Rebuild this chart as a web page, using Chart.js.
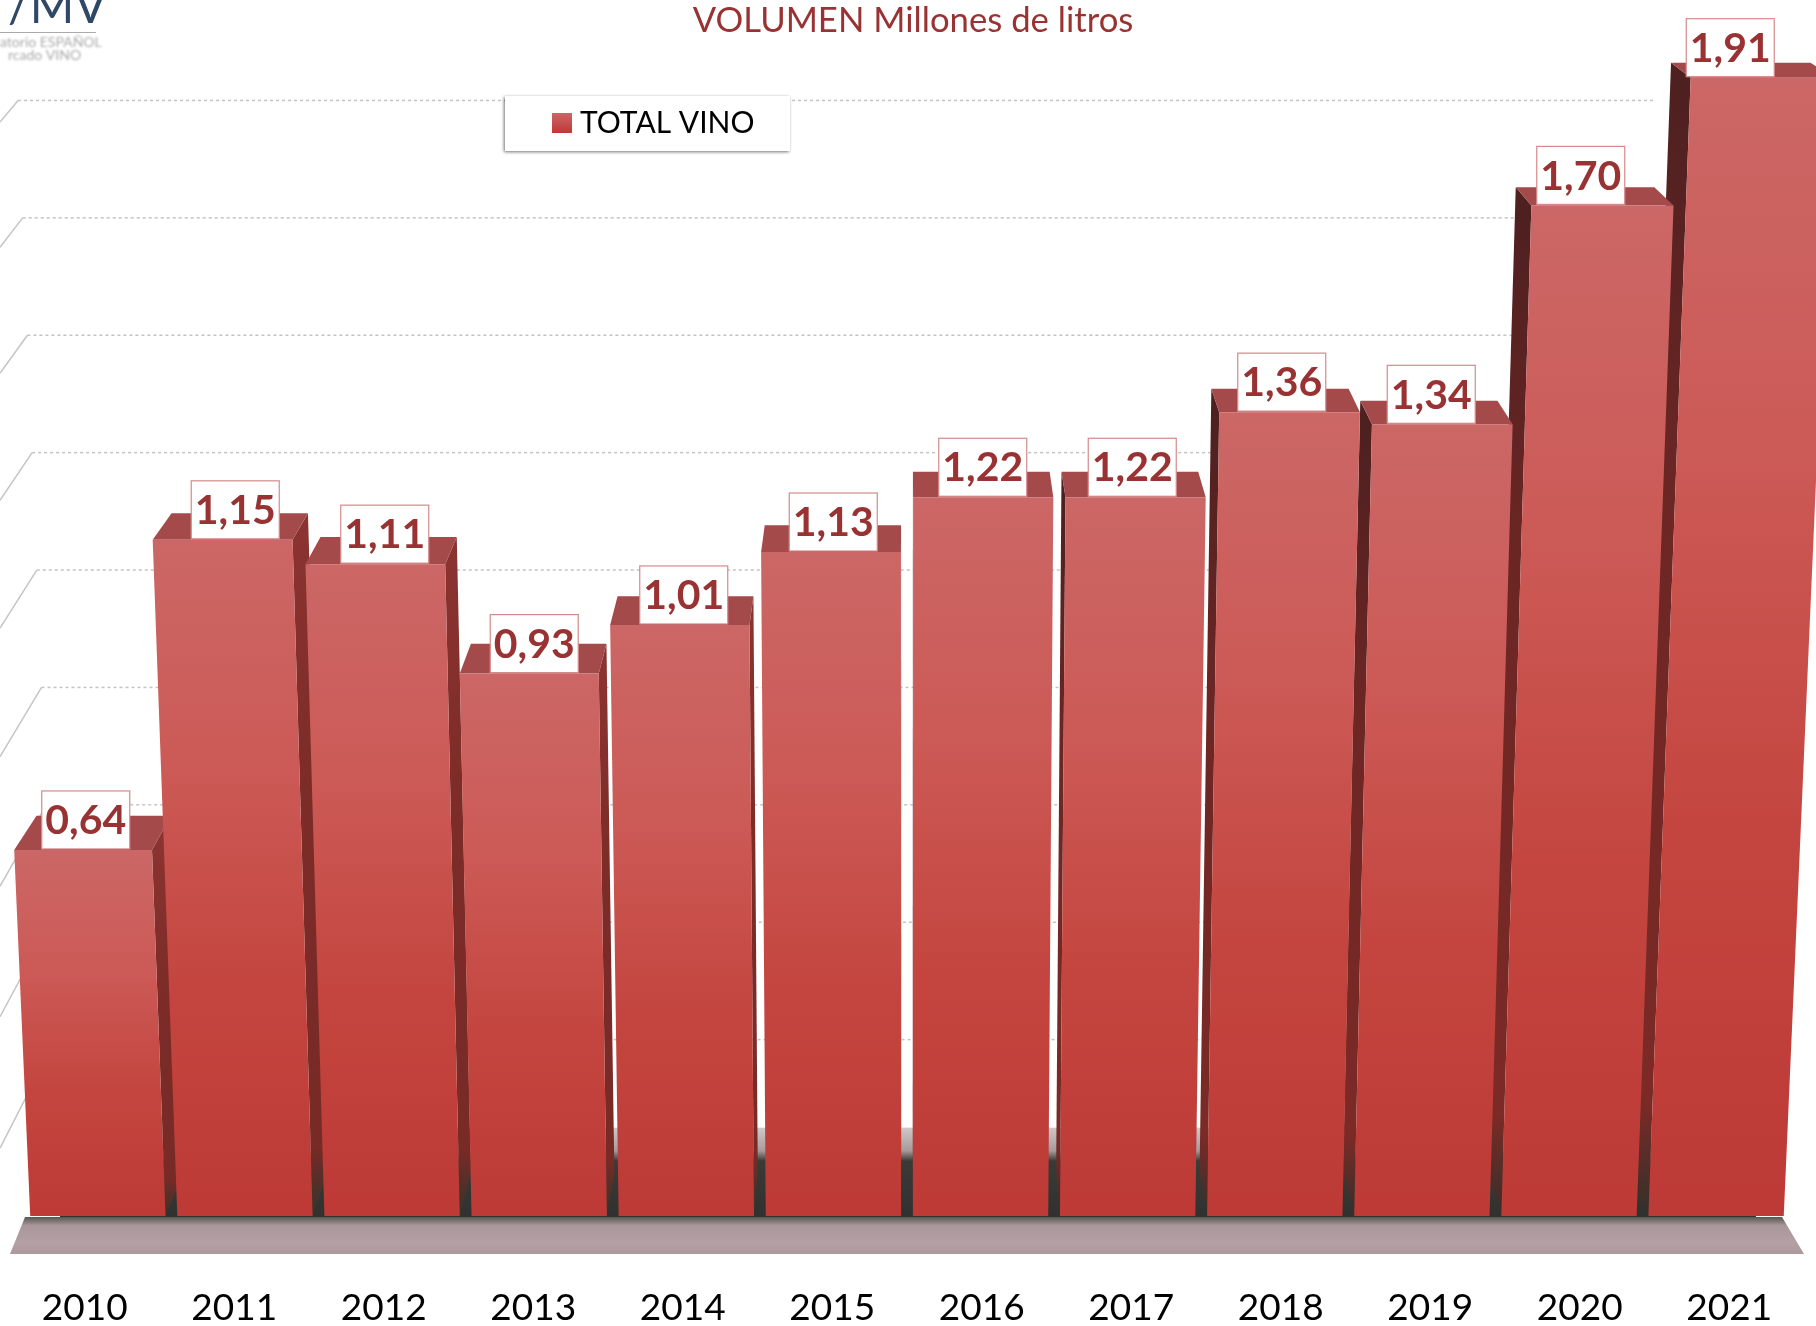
<!DOCTYPE html>
<html>
<head>
<meta charset="utf-8">
<title>Volumen</title>
<script src="https://cdn.jsdelivr.net/npm/chart.js@4"></script>
<style>
	html, body { margin: 0; padding: 0; background: #fff; }
	canvas { display: block; }
</style>
</head>
<body>
<canvas id="chart" width="1816" height="1326"></canvas>
<script>
const years = ['2010', '2011', '2012', '2013', '2014', '2015', '2016', '2017', '2018', '2019', '2020', '2021'];
const volumen = [0.64, 1.15, 1.11, 0.93, 1.01, 1.13, 1.22, 1.22, 1.36, 1.34, 1.70, 1.91];
const gridValues = [0.2, 0.4, 0.6, 0.8, 1.0, 1.2, 1.4, 1.6, 1.8];
const seriesName = 'TOTAL VINO';
const titleText = 'VOLUMEN Millones de litros';
const yMin = 0.038;
const yMax = 1.972;

const FONT = 'Lato, "Open Sans", sans-serif';
const WINE = '#993333';

// fake 3d: everything is projected from what the scales return
const vanish = { x: 906, y: -520 };
const depth = 0.975;
const baseScale = 0.984;
const rise = 5e-5;

function front(x, h) {
	return vanish.x + (x - vanish.x) * baseScale * (1 + rise * h);
}
function back(p) {
	return { x: vanish.x + (p.x - vanish.x) * depth, y: vanish.y + (p.y - vanish.y) * depth };
}
function poly(ctx, pts, fill) {
	ctx.beginPath();
	pts.forEach((p, i) => i ? ctx.lineTo(p.x, p.y) : ctx.moveTo(p.x, p.y));
	ctx.closePath();
	ctx.fillStyle = fill;
	ctx.fill();
}
function vgrad(ctx, y0, y1, stops) {
	const g = ctx.createLinearGradient(0, y0, 0, y1);
	stops.forEach(([at, c]) => g.addColorStop(at, c));
	return g;
}

const scenery = {
	id: 'scenery',
	afterLayout(chart) {
		// the title sits a little right of the middle
		chart.titleBlock.left += 6;
		chart.titleBlock.right += 6;
	},
	beforeDatasetsDraw(chart) {
		const ctx = chart.ctx, wall = chart.scales.wall, area = chart.chartArea;
		const floorY = wall.getPixelForValue(0.05);
		ctx.save();
		// back wall lines with the diagonal on the left
		ctx.lineWidth = 1.5;
		gridValues.forEach(v => {
			const y = wall.getPixelForValue(v);
			const x = 18 + 0.04 * (y - 100);
			ctx.strokeStyle = '#c4c4c4';
			ctx.setLineDash([]);
			ctx.beginPath();
			ctx.moveTo(x, y);
			ctx.lineTo(0, y + x * (1.2 + (y - 100) * 0.0008));
			ctx.stroke();
			ctx.setLineDash([3, 3]);
			ctx.beginPath();
			ctx.moveTo(x, y);
			ctx.lineTo(area.right - 150, y);
			ctx.stroke();
		});
		ctx.setLineDash([]);
		// floor
		const bottom = area.bottom + 38;
		ctx.fillStyle = vgrad(ctx, floorY, area.bottom + 4, [[0, '#d0c8c8'], [0.25, '#a89a9a'], [0.36, '#3a3a36'], [1, '#303030']]);
		ctx.fillRect(60, floorY, 1696, area.bottom + 4 - floorY);
		poly(ctx, [
			{ x: 25, y: area.bottom + 1 }, { x: 1782, y: area.bottom + 1 },
			{ x: area.right, y: bottom }, { x: area.left, y: bottom }
		], vgrad(ctx, area.bottom, bottom, [[0, '#4f4f48'], [0.25, '#a8979a'], [0.7, '#b5a0a4'], [1, '#ad999d']]));
		ctx.restore();
	}
};

const bars3d = {
	id: 'bars3d',
	beforeDatasetDraw(chart, args) {
		const ctx = chart.ctx, els = args.meta.data;
		const order = els.map((e, i) => i).sort((a, b) =>
			Math.abs(els[b].x - vanish.x) - Math.abs(els[a].x - vanish.x));
		ctx.save();
		order.forEach(i => {
			const e = els[i], h = e.base - e.y, w = e.width / 2;
			const bl = { x: front(e.x - w, 0), y: e.base }, br = { x: front(e.x + w, 0), y: e.base };
			const tl = { x: front(e.x - w, h), y: e.y }, tr = { x: front(e.x + w, h), y: e.y };
			const tlb = back(tl), trb = back(tr), blb = back(bl), brb = back(br);
			// side
			if (e.x > vanish.x) {
				poly(ctx, [tlb, tl, bl, blb], vgrad(ctx, e.y, e.base, [[0, '#4e2020'], [0.35, '#6b2624'], [0.9, '#7c2a26'], [1, '#33302a']]));
			} else {
				poly(ctx, [trb, tr, br, brb], vgrad(ctx, e.y, e.base, [[0, '#8a3330'], [0.35, '#7d2c28'], [0.9, '#772a26'], [1, '#33352c']]));
			}
			// top
			poly(ctx, [tl, tlb, trb, tr], '#a54a4b');
			// front
			poly(ctx, [tl, tr, br, bl], vgrad(ctx, e.y, e.base, [[0, '#cb6766'], [0.33, '#cc5a56'], [0.66, '#c4453f'], [1, '#bd3a36']]));
		});
		ctx.restore();
		return false;
	},
	afterDatasetsDraw(chart) {
		const ctx = chart.ctx, els = chart.getDatasetMeta(0).data;
		ctx.save();
		// value boxes
		ctx.textAlign = 'center';
		ctx.textBaseline = 'middle';
		ctx.font = 'bold 41px ' + FONT;
		els.forEach((e, i) => {
			const cx = e.x + 1, cy = e.y - 30;
			ctx.fillStyle = '#fff';
			ctx.strokeStyle = '#d58a8a';
			ctx.lineWidth = 1.2;
			ctx.fillRect(cx - 44, cy - 29, 88, 58);
			ctx.strokeRect(cx - 44, cy - 29, 88, 58);
			ctx.fillStyle = WINE;
			ctx.fillText(volumen[i].toFixed(2).replace('.', ','), cx, cy + 1);
		});
		// legend
		ctx.shadowColor = 'rgba(0,0,0,.55)';
		ctx.shadowBlur = 3;
		ctx.shadowOffsetX = -1;
		ctx.shadowOffsetY = 1;
		ctx.fillStyle = '#fff';
		ctx.fillRect(505, 96, 285, 55);
		ctx.shadowColor = 'transparent';
		ctx.fillStyle = vgrad(ctx, 113, 133, [[0, '#cb6766'], [1, '#bd3a36']]);
		ctx.fillRect(552, 113, 20, 20);
		ctx.fillStyle = '#000';
		ctx.textAlign = 'left';
		ctx.font = '30px ' + FONT;
		ctx.fillText(seriesName, 580, 123);
		// logo, cut by the top of the picture
		ctx.fillStyle = '#2f4868';
		ctx.font = '48px ' + FONT;
		ctx.filter = 'blur(.7px)';
		ctx.fillText('/MV', 8, 8);
		ctx.fillStyle = '#aaa';
		ctx.fillRect(0, 32, 96, 1);
		ctx.font = '14px ' + FONT;
		ctx.filter = 'blur(1.2px)';
		ctx.fillText('atorio ESPAÑOL', 0, 42);
		ctx.fillText('rcado VINO', 8, 55);
		ctx.filter = 'none';
		ctx.restore();
	}
};

new Chart(document.getElementById('chart'), {
	type: 'bar',
	data: {
		labels: years,
		datasets: [{ label: seriesName, data: volumen, base: yMin, backgroundColor: '#c4453f', barPercentage: 0.92, categoryPercentage: 1 }]
	},
	options: {
		responsive: false,
		animation: false,
		layout: { padding: { left: 10, right: 12 } },
		plugins: {
			legend: { display: false },
			tooltip: { enabled: false },
			title: {
				display: true,
				text: titleText,
				color: WINE,
				font: { family: FONT, size: 34.7, weight: 'normal', lineHeight: 1 },
				padding: { top: 3, bottom: 2.3 }
			}
		},
		scales: {
			x: {
				grid: { display: false },
				border: { display: false },
				afterFit: s => { s.height = 110; s.paddingLeft = 0; s.paddingRight = 0; },
				ticks: { color: '#000', padding: 62, maxRotation: 0, font: { family: FONT, size: 37 } }
			},
			y: { min: yMin, max: yMax, display: false },
			wall: { axis: 'y', min: -0.1005, max: 1.903, display: false }
		}
	},
	plugins: [scenery, bars3d]
});
</script>
</body>
</html>
